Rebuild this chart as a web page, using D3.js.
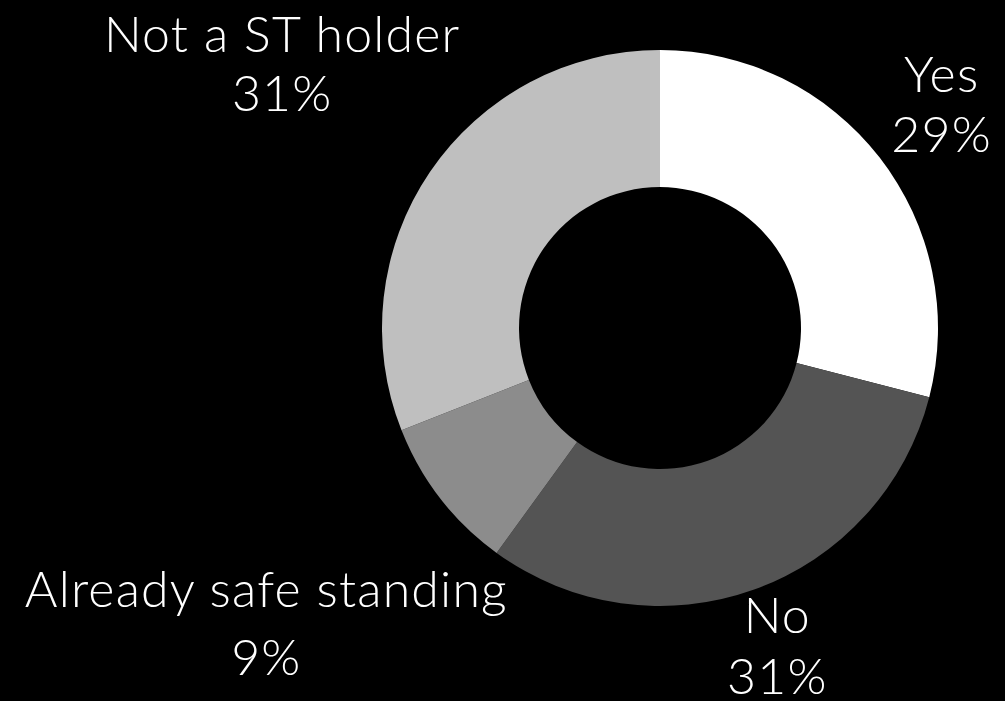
<!DOCTYPE html>
<html>
<head>
<meta charset="utf-8">
<script src="https://cdn.jsdelivr.net/npm/d3@7"></script>
<style>
  html, body { margin: 0; padding: 0; background: #000; }
  svg { display: block; }
</style>
</head>
<body>
<script>
// data
const categories = ["Yes", "No", "Already safe standing", "Not a ST holder"]
const values = [29, 31, 9, 31]
const colors = ["#ffffff", "#545454", "#8c8c8c", "#bfbfbf"]

// label layout (distance from centre, small angle nudge in degrees, gap between the two lines)
const labelRadius = [349, 355, 503, 451]
const labelShift = [1.6, 0.5, -0.7, -1.1]
const lineGap = [60, 61, 68, 59]

const width = 1005
const height = 701
const cx = 660
const cy = 328
const outerR = 278
const innerR = 141

const svg = d3.select("body").append("svg")
  .attr("width", width)
  .attr("height", height)

svg.append("rect")
  .attr("width", width)
  .attr("height", height)
  .attr("fill", "#000")

const pie = d3.pie().sort(null).value(d => d.value)
const arc = d3.arc().innerRadius(innerR).outerRadius(outerR)

const rows = categories.map((c, i) => ({ name: c, value: values[i], color: colors[i], i }))
const arcs = pie(rows)
const total = d3.sum(values)

const g = svg.append("g").attr("transform", `translate(${cx},${cy})`)

g.selectAll("path")
  .data(arcs)
  .join("path")
  .attr("d", arc)
  .attr("fill", d => d.data.color)

const labels = g.selectAll("text.lbl")
  .data(arcs)
  .join("text")
  .attr("class", "lbl")
  .attr("text-anchor", "middle")
  .attr("fill", "#fff")
  .style("font-family", "Lato, 'Open Sans', sans-serif")
  .style("font-weight", 300)
  .style("font-size", "50px")
  .style("letter-spacing", "1.2px")
  .attr("transform", d => {
    const i = d.data.i
    const a = (d.startAngle + d.endAngle) / 2 + labelShift[i] * Math.PI / 180
    const x = labelRadius[i] * Math.sin(a)
    const y = -labelRadius[i] * Math.cos(a)
    return `translate(${x},${y})`
  })

labels.append("tspan")
  .attr("x", 0)
  .attr("y", d => -lineGap[d.data.i] / 2)
  .text(d => d.data.name)

labels.append("tspan")
  .attr("x", 0)
  .attr("y", d => lineGap[d.data.i] / 2)
  .text(d => Math.round(d.data.value / total * 100) + "%")
</script>
</body>
</html>
